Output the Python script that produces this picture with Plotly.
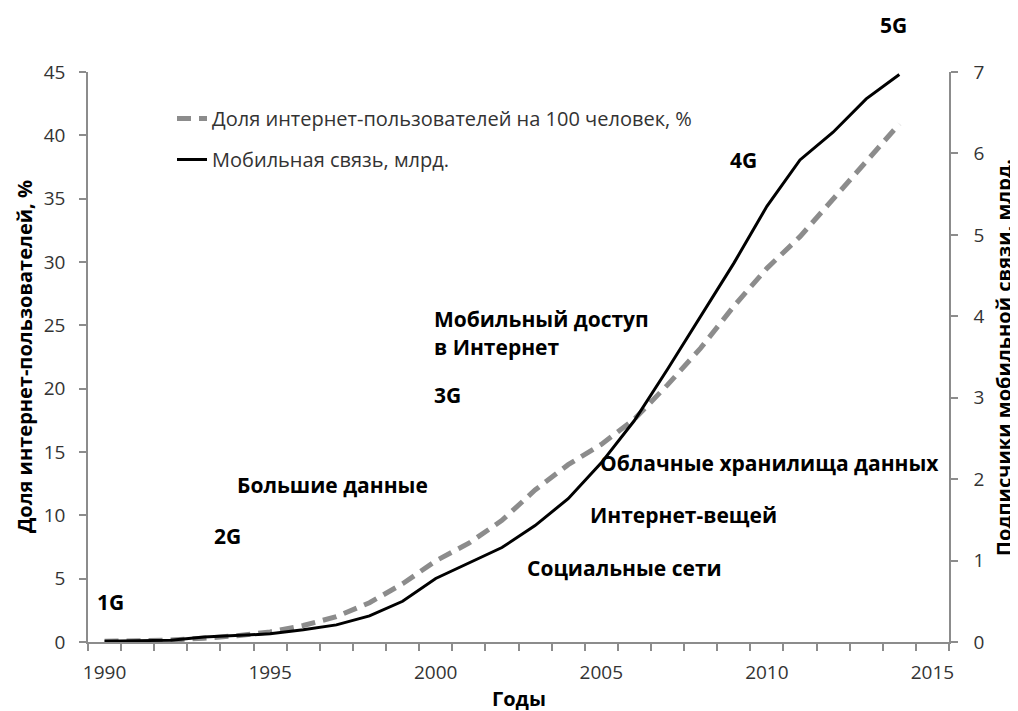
import plotly.graph_objects as go

years = list(range(1990, 2015))
internet_share = [0.05, 0.08, 0.15, 0.3, 0.5, 0.8, 1.3, 2.0, 3.1, 4.6, 6.4, 7.8, 9.6, 12.0,
                  14.0, 15.6, 17.6, 20.3, 23.2, 26.5, 29.5, 32.0, 35.0, 38.0, 40.9]
mobile_bn = [0.01, 0.016, 0.023, 0.06, 0.08, 0.1, 0.15, 0.21, 0.32, 0.5, 0.78, 0.97, 1.16,
             1.43, 1.76, 2.2, 2.72, 3.35, 4.0, 4.65, 5.35, 5.92, 6.26, 6.67, 6.97]
x_ticks = [1990, 1995, 2000, 2005, 2010, 2015]
left_ticks = list(range(0, 50, 5))
right_ticks = list(range(0, 8))

name_internet = "Доля интернет-пользователей на 100 человек, %"
name_mobile = "Мобильная связь, млрд."

FONT = "Open Sans"
AX = "#8c8c8c"
TXT = "#333333"
OFF = 8  # page body margin

fig = go.Figure()
fig.add_trace(go.Scatter(x=years, y=internet_share, name=name_internet, mode="lines",
                         line=dict(color="#8c8c8c", width=5, dash="14px,8px"),
                         legendgroup="a", yaxis="y"))
fig.add_trace(go.Scatter(x=years, y=mobile_bn, name=name_mobile, mode="lines",
                         line=dict(color="black", width=3),
                         legendgroup="b", yaxis="y2"))

labels = [
    ("5G", 893, 25, "center"),
    ("4G", 743, 160, "center"),
    ("Мобильный доступ", 432, 319, "left"),
    ("в Интернет", 432, 347, "left"),
    ("3G", 432, 395, "left"),
    ("Большие данные", 235, 485, "left"),
    ("2G", 227, 536, "center"),
    ("1G", 110, 602, "center"),
    ("Облачные хранилища данных", 598, 463, "left"),
    ("Интернет-вещей", 588, 515, "left"),
    ("Социальные сети", 525, 568, "left"),
]
W, H = 1010, 703
ml, mt = 88 - OFF, 72 - OFF
pw, ph = 861, 570
mr, mb = W - ml - pw, H - mt - ph


def px2paper(px, py):
    return (px - OFF - ml) / pw, 1 - (py - OFF - mt) / ph


annotations = []
for text, px, py, anchor in labels:
    ax_, ay_ = px2paper(px, py)
    annotations.append(dict(text=text, x=ax_, y=ay_,
                            xref="paper", yref="paper", xanchor=anchor, yanchor="middle",
                            showarrow=False,
                            font=dict(family=FONT, size=21, color="black", weight="bold")))
tx, _ = px2paper(24, 0)
annotations.append(dict(text="Доля интернет-пользователей, %", x=tx, y=0.5,
                        xref="paper", yref="paper", textangle=-90, showarrow=False,
                        xanchor="center", yanchor="middle",
                        font=dict(family=FONT, size=20, color="black", weight="bold")))
tx, _ = px2paper(1003, 0)
annotations.append(dict(text="Подписчики мобильной связи, млрд.", x=tx, y=0.5,
                        xref="paper", yref="paper", textangle=-90, showarrow=False,
                        xanchor="center", yanchor="middle",
                        font=dict(family=FONT, size=20, color="black", weight="bold")))
_, ty = px2paper(0, 698)
annotations.append(dict(text="Годы", x=0.5, y=ty,
                        xref="paper", yref="paper", showarrow=False,
                        xanchor="center", yanchor="middle",
                        font=dict(family=FONT, size=20, color="black", weight="bold")))

lx, ly = px2paper(172, 99)
fig.update_layout(
    width=W, height=H,
    margin=dict(l=ml, r=mr, t=mt, b=mb, autoexpand=False),
    paper_bgcolor="white", plot_bgcolor="white",
    font=dict(family=FONT, size=19, color=TXT),
    showlegend=True,
    legend=dict(x=lx, y=ly, xanchor="left", yanchor="top",
                bgcolor="rgba(0,0,0,0)", tracegroupgap=12,
                font=dict(family=FONT, size=20, color="#333333")),
    xaxis=dict(range=[1989.5, 2015.5], tickvals=x_ticks, ticks="", showgrid=False,
               zeroline=False, showline=True, linecolor=AX, linewidth=1.5,
               ticklabelstandoff=12,
               minor=dict(ticks="outside", tick0=1989.5, dtick=1, ticklen=7,
                          tickcolor=AX, tickwidth=1.5, showgrid=False),
               tickfont=dict(family=FONT, size=19, color=TXT)),
    yaxis=dict(range=[0, 45], tickvals=left_ticks, ticks="outside", ticklen=7,
               tickcolor=AX, tickwidth=1.5, showgrid=False, zeroline=False,
               showline=True, linecolor=AX, linewidth=1.5, ticklabelstandoff=10,
               tickfont=dict(family=FONT, size=19, color=TXT)),
    yaxis2=dict(range=[0, 7], tickvals=right_ticks, ticks="outside", ticklen=7,
                tickcolor=AX, tickwidth=1.5, showgrid=False, zeroline=False,
                showline=True, linecolor=AX, linewidth=1.5, overlaying="y", side="right",
                ticklabelstandoff=12,
                tickfont=dict(family=FONT, size=19, color=TXT)),
    annotations=annotations,
)

fig.write_html("out.html")
